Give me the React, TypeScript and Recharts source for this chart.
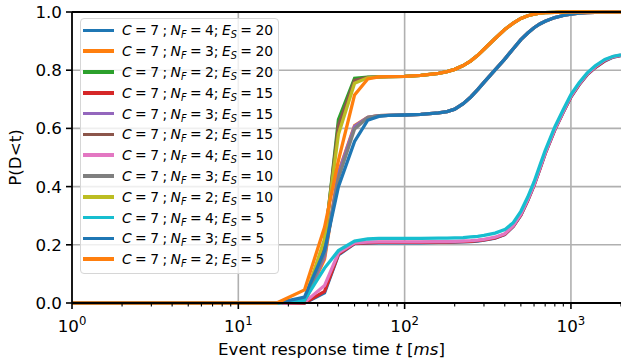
import { LineChart, Line, XAxis, YAxis, CartesianGrid, Legend, ReferenceLine, Label } from 'recharts';

const FONT = '"DejaVu Sans", "Liberation Sans", sans-serif';

// sample times (ms) shared by every curve
const T = [1, 17, 25, 33, 40, 50, 60, 70, 80, 100, 125, 160, 180, 200, 225, 250, 275, 300, 350, 400, 450, 500, 550, 600, 650, 700, 800, 900, 1000, 1120, 1250, 1400, 1600, 1800, 2000];

// N_F = 4 (lower group)
const nf4Es20 = [0, 0, 0, 0.035, 0.165, 0.204, 0.206, 0.207, 0.207, 0.207, 0.207, 0.208, 0.208, 0.209, 0.21, 0.211, 0.213, 0.216, 0.223, 0.235, 0.263, 0.302, 0.352, 0.404, 0.46, 0.513, 0.595, 0.656, 0.708, 0.75, 0.784, 0.809, 0.832, 0.845, 0.85];
const nf4Es15 = [0, 0, 0, 0.04, 0.168, 0.205, 0.207, 0.208, 0.208, 0.208, 0.208, 0.209, 0.209, 0.21, 0.211, 0.212, 0.214, 0.217, 0.224, 0.236, 0.264, 0.303, 0.353, 0.405, 0.461, 0.514, 0.596, 0.657, 0.709, 0.751, 0.785, 0.81, 0.833, 0.846, 0.851];
const nf4Es10 = [0, 0, 0.002, 0.06, 0.172, 0.207, 0.209, 0.21, 0.21, 0.21, 0.21, 0.211, 0.211, 0.212, 0.213, 0.214, 0.216, 0.219, 0.226, 0.238, 0.266, 0.305, 0.355, 0.407, 0.463, 0.516, 0.598, 0.659, 0.711, 0.753, 0.787, 0.812, 0.835, 0.847, 0.852];
const nf4Es5 = [0, 0, 0.01, 0.12, 0.18, 0.213, 0.22, 0.222, 0.222, 0.222, 0.222, 0.223, 0.223, 0.224, 0.225, 0.227, 0.229, 0.232, 0.24, 0.252, 0.276, 0.315, 0.364, 0.416, 0.472, 0.524, 0.605, 0.665, 0.716, 0.757, 0.79, 0.815, 0.837, 0.848, 0.853];

// N_F = 3 (middle group)
const nf3Es20 = [0, 0, 0.003, 0.15, 0.45, 0.61, 0.638, 0.644, 0.645, 0.646, 0.648, 0.653, 0.658, 0.666, 0.685, 0.708, 0.733, 0.758, 0.801, 0.838, 0.874, 0.905, 0.928, 0.946, 0.959, 0.968, 0.981, 0.988, 0.993, 0.996, 0.998, 0.999, 1, 1, 1];
const nf3Es15 = [0, 0, 0.005, 0.16, 0.445, 0.607, 0.638, 0.644, 0.645, 0.646, 0.648, 0.653, 0.658, 0.666, 0.685, 0.708, 0.733, 0.758, 0.801, 0.838, 0.874, 0.905, 0.928, 0.946, 0.959, 0.968, 0.981, 0.988, 0.993, 0.996, 0.998, 0.999, 1, 1, 1];
const nf3Es10 = [0, 0, 0.008, 0.17, 0.43, 0.598, 0.637, 0.644, 0.645, 0.646, 0.648, 0.653, 0.658, 0.666, 0.685, 0.708, 0.733, 0.758, 0.801, 0.838, 0.874, 0.905, 0.928, 0.946, 0.959, 0.968, 0.981, 0.988, 0.993, 0.996, 0.998, 0.999, 1, 1, 1];
const nf3Es5 = [0, 0, 0.02, 0.18, 0.4, 0.555, 0.628, 0.641, 0.645, 0.646, 0.648, 0.653, 0.658, 0.666, 0.685, 0.708, 0.733, 0.758, 0.801, 0.838, 0.874, 0.905, 0.928, 0.946, 0.959, 0.968, 0.981, 0.988, 0.993, 0.996, 0.998, 0.999, 1, 1, 1];

// N_F = 2 (upper group)
const nf2Es20 = [0, 0, 0.005, 0.2, 0.63, 0.772, 0.776, 0.777, 0.778, 0.779, 0.782, 0.789, 0.795, 0.803, 0.816, 0.832, 0.851, 0.872, 0.909, 0.94, 0.962, 0.978, 0.987, 0.993, 0.996, 0.998, 0.999, 1, 1, 1, 1, 1, 1, 1, 1];
const nf2Es15 = [0, 0, 0.008, 0.21, 0.61, 0.765, 0.775, 0.777, 0.778, 0.779, 0.782, 0.789, 0.795, 0.803, 0.816, 0.832, 0.851, 0.872, 0.909, 0.94, 0.962, 0.978, 0.987, 0.993, 0.996, 0.998, 0.999, 1, 1, 1, 1, 1, 1, 1, 1];
const nf2Es10 = [0, 0, 0.01, 0.22, 0.58, 0.755, 0.774, 0.777, 0.778, 0.779, 0.782, 0.789, 0.795, 0.803, 0.816, 0.832, 0.851, 0.872, 0.909, 0.94, 0.962, 0.978, 0.987, 0.993, 0.996, 0.998, 0.999, 1, 1, 1, 1, 1, 1, 1, 1];
const nf2Es5 = [0, 0, 0.045, 0.26, 0.49, 0.715, 0.77, 0.777, 0.778, 0.779, 0.782, 0.789, 0.795, 0.803, 0.816, 0.832, 0.851, 0.872, 0.909, 0.94, 0.962, 0.978, 0.987, 0.993, 0.996, 0.998, 0.999, 1, 1, 1, 1, 1, 1, 1, 1];

// draw order = legend order (matplotlib tab10 cycle)
const SERIES = [
  { key: 'a', nf: 4, es: 20, color: '#1f77b4', values: nf4Es20 },
  { key: 'b', nf: 3, es: 20, color: '#ff7f0e', values: nf3Es20 },
  { key: 'c', nf: 2, es: 20, color: '#2ca02c', values: nf2Es20 },
  { key: 'd', nf: 4, es: 15, color: '#d62728', values: nf4Es15 },
  { key: 'e', nf: 3, es: 15, color: '#9467bd', values: nf3Es15 },
  { key: 'f', nf: 2, es: 15, color: '#8c564b', values: nf2Es15 },
  { key: 'g', nf: 4, es: 10, color: '#e377c2', values: nf4Es10 },
  { key: 'h', nf: 3, es: 10, color: '#7f7f7f', values: nf3Es10 },
  { key: 'i', nf: 2, es: 10, color: '#bcbd22', values: nf2Es10 },
  { key: 'j', nf: 4, es: 5, color: '#17becf', values: nf4Es5 },
  { key: 'k', nf: 3, es: 5, color: '#1f77b4', values: nf3Es5 },
  { key: 'l', nf: 2, es: 5, color: '#ff7f0e', values: nf2Es5 },
];

const X_TICKS = [
  1, 2, 3, 4, 5, 6, 7, 8, 9,
  10, 20, 30, 40, 50, 60, 70, 80, 90,
  100, 200, 300, 400, 500, 600, 700, 800, 900,
  1000, 2000,
];
const Y_TICKS = [0, 0.2, 0.4, 0.6, 0.8, 1.0];

const rows = T.map((t, i) => {
  const r: Record<string, number> = { t };
  SERIES.forEach(s => { r[s.key] = s.values[i]; });
  return r;
});

function XTick(props: any) {
  const { x, y, payload } = props;
  const lg = Math.log10(payload.value);
  const exp = Math.round(lg);
  const major = Math.abs(lg - exp) < 1e-9;
  return (
    <g>
      <line x1={x} x2={x} y1={y} y2={y + (major ? 6 : 3.5)} stroke="#000" strokeWidth={major ? 1.6 : 1.1} />
      {major && (
        <text x={x} y={y + 29} textAnchor="middle" fontSize={16.7} fontFamily={FONT} fill="#000">
          10<tspan dy={-7} fontSize={11.7}>{exp}</tspan>
        </text>
      )}
    </g>
  );
}

function YTick(props: any) {
  const { x, y, payload } = props;
  return (
    <g>
      <line x1={x - 6} x2={x} y1={y} y2={y} stroke="#000" strokeWidth={1.6} />
      <text x={x - 10} y={y} dy="0.36em" textAnchor="end" fontSize={16.7} fontFamily={FONT} fill="#000">
        {Number(payload.value).toFixed(1)}
      </text>
    </g>
  );
}

function XTitle(props: any) {
  const { viewBox } = props;
  const cx = viewBox.x + viewBox.width / 2 - 15;
  return (
    <text x={cx} y={viewBox.y + 52} textAnchor="middle" fontSize={16.7} fontFamily={FONT} fill="#000">
      Event response time <tspan fontStyle="italic">t</tspan> [<tspan fontStyle="italic">ms</tspan>]
    </text>
  );
}

function YTitle(props: any) {
  const { viewBox } = props;
  const cy = viewBox.y + viewBox.height / 2;
  return (
    <text x={14.5} y={cy} transform={`rotate(-90, 14.5, ${cy})`} textAnchor="middle" dy="0.36em" fontSize={16.7} fontFamily={FONT} fill="#000">
      P(D&lt;t)
    </text>
  );
}

const sub = { fontSize: 9.7, fontStyle: 'italic', position: 'relative', top: 3 } as const;

function LegendBox() {
  return (
    <div style={{
      background: 'rgba(255,255,255,0.8)', border: '1px solid #d6d6d6', borderRadius: 4,
      padding: '1px 5px 3px 2px', fontFamily: FONT, fontSize: 13.9, color: '#000', wordSpacing: -1,
    }}>
      {SERIES.map(s => (
        <div key={s.key} style={{ display: 'flex', alignItems: 'center', height: 20.8, whiteSpace: 'nowrap' }}>
          <span style={{ display: 'inline-block', width: 31, height: 3.6, background: s.color, marginRight: 8 }} />
          <span>
            <i>C</i> = 7 ; <i>N</i><span style={sub}>F</span> = {s.nf}; <i>E</i><span style={sub}>S</span> = {s.es}
          </span>
        </div>
      ))}
    </div>
  );
}

export default function App() {
  return (
    <div style={{ position: 'absolute', left: 0, top: 0, background: '#fff' }}>
      <LineChart width={621} height={362} data={rows} margin={{ top: 12, right: 0, bottom: 0, left: 0 }}>
        <CartesianGrid stroke="#b0b0b0" strokeWidth={1.6} verticalValues={[10, 100, 1000]} horizontalValues={[0.2, 0.4, 0.6, 0.8]} />
        <XAxis
          dataKey="t"
          type="number"
          scale="log"
          domain={[1, 2000]}
          allowDataOverflow
          ticks={X_TICKS}
          interval={0}
          tick={<XTick />}
          tickLine={false}
          tickSize={0}
          tickMargin={0}
          axisLine={{ stroke: '#000', strokeWidth: 1.8 }}
          height={59}
        >
          <Label content={<XTitle />} />
        </XAxis>
        <YAxis
          type="number"
          domain={[0, 1]}
          ticks={Y_TICKS}
          interval={0}
          tick={<YTick />}
          tickLine={false}
          tickSize={0}
          tickMargin={0}
          axisLine={{ stroke: '#000', strokeWidth: 1.8 }}
          width={72}
        >
          <Label content={<YTitle />} />
        </YAxis>
        {SERIES.map(s => (
          <Line
            key={s.key}
            type="linear"
            dataKey={s.key}
            stroke={s.color}
            strokeWidth={3.3}
            dot={false}
            activeDot={false}
            isAnimationActive={false}
          />
        ))}
        <ReferenceLine y={1} stroke="#000" strokeWidth={1.8} />
        <Legend
          layout="vertical"
          align="center"
          verticalAlign="middle"
          content={<LegendBox />}
          wrapperStyle={{ left: 80, top: 18, width: 'auto', height: 'auto' }}
        />
      </LineChart>
    </div>
  );
}
